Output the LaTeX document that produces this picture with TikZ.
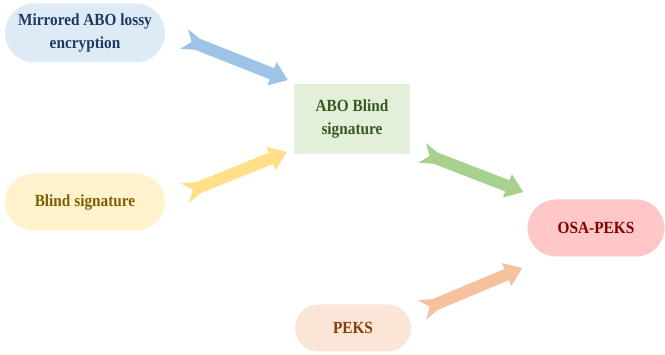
\documentclass[tikz,border=0pt]{standalone}
\usepackage{fontspec}
\setmainfont{Liberation Serif}
\newfontfamily\lblfont[FakeStretch=0.9]{Liberation Serif}
\usetikzlibrary{calc,shapes.misc}

\definecolor{mirfill}{HTML}{DEEBF7}
\definecolor{mirtext}{HTML}{203864}
\definecolor{blindfill}{HTML}{FFF2CC}
\definecolor{blindtext}{HTML}{7F6000}
\definecolor{abofill}{HTML}{E2F0D9}
\definecolor{abotext}{HTML}{385723}
\definecolor{osafill}{HTML}{FFC7C8}
\definecolor{osatext}{HTML}{800000}
\definecolor{peksfill}{HTML}{FBE5D6}
\definecolor{pekstext}{HTML}{843C0C}
\definecolor{arrblue}{HTML}{9DC3E6}
\definecolor{arryellow}{HTML}{FFDF88}
\definecolor{arrgreen}{HTML}{A9D18E}
\definecolor{arrorange}{HTML}{F6C29E}

\tikzset{
  pill/.style={rounded rectangle, draw=none, align=center,
    font=\lblfont\fontsize{17}{23}\selectfont\bfseries, inner sep=0pt},
  box/.style={rectangle, draw=none, align=center,
    font=\lblfont\fontsize{17}{23}\selectfont\bfseries, inner sep=0pt},
}

% 帶尾羽的箭頭：顏色、尾、頭
\newcommand{\fletch}[3]{%
  \fill[#1] let \p1=(#2), \p2=(#3),
    \n1={atan2(\y2-\y1,\x2-\x1)}, \n2={veclen(\x2-\x1,\y2-\y1)} in
    [shift={(\p1)}, rotate=\n1]
    (0,10.5) -- (14,6) -- (\n2-17,6) -- (\n2-17,12.5) -- (\n2,0)
    -- (\n2-17,-12.5) -- (\n2-17,-6) -- (14,-6) -- (0,-10.5) -- (8,0) -- cycle;
}

\begin{document}
\begin{tikzpicture}[x=1pt, y=1pt]
    \useasboundingbox (0,0) rectangle (665,355);

    % 畫出方塊
    \node[pill, fill=mirfill, text=mirtext, minimum width=160, minimum height=59]
        (mirror) at (85,322) {Mirrored ABO lossy\\encryption};
    \node[pill, fill=blindfill, text=blindtext, minimum width=160, minimum height=57]
        (blind) at (85,153) {Blind signature};
    \node[box, fill=abofill, text=abotext, minimum width=116, minimum height=70]
        (abo) at (352,236) {ABO Blind\\signature};
    \node[pill, fill=osafill, text=osatext, minimum width=137, minimum height=57]
        (osa) at (596,127) {OSA-PEKS};
    \node[pill, fill=peksfill, text=pekstext, minimum width=116, minimum height=47]
        (peks) at (353,27) {PEKS};

    % 定義箭頭端點
    \coordinate (mirT) at ([shift={(19,-6)}]mirror.east);
    \coordinate (mirH) at ([shift={(-6,39)}]abo.west);
    \coordinate (blindT) at ([shift={(20,9)}]blind.east);
    \coordinate (blindH) at ([shift={(-7,-33)}]abo.west);
    \coordinate (aboT) at ([shift={(12,-34)}]abo.east);
    \coordinate (aboH) at ([shift={(-4,36)}]osa.west);
    \coordinate (peksT) at ([shift={(11,18)}]peks.east);
    \coordinate (peksH) at ([shift={(-5,-40)}]osa.west);

    % 畫出箭頭
    \fletch{arrblue}{mirT}{mirH}
    \fletch{arryellow}{blindT}{blindH}
    \fletch{arrgreen}{aboT}{aboH}
    \fletch{arrorange}{peksT}{peksH}
\end{tikzpicture}
\end{document}
